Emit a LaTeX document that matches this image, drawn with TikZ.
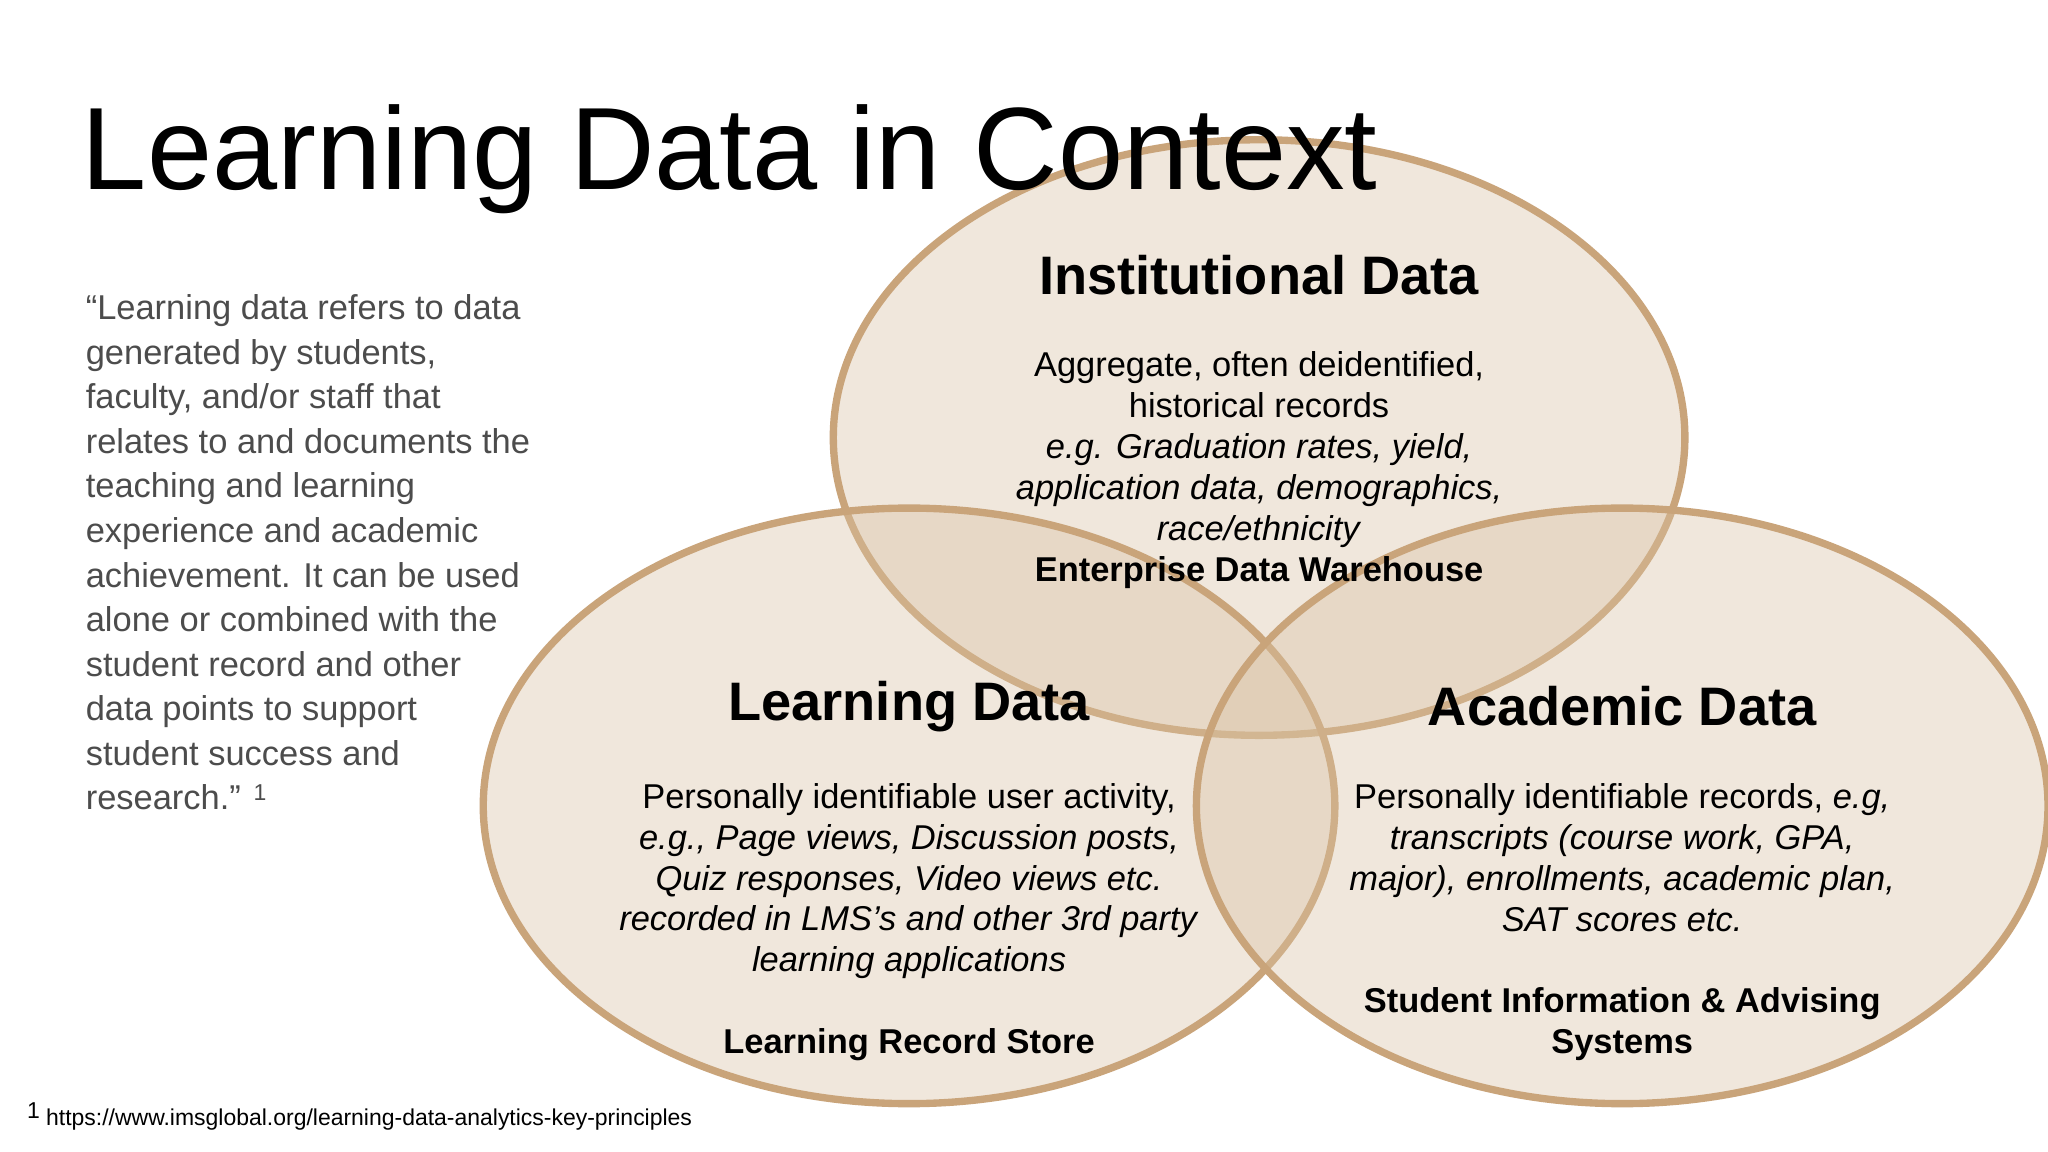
\documentclass[tikz,border=0pt]{standalone}
\usepackage{fontspec}
\setmainfont{Liberation Sans}
\definecolor{edge}{HTML}{C9A47A}
\definecolor{fillc}{HTML}{D9C2A3}
\begin{document}
\begin{tikzpicture}[x=0.01cm,y=-0.01cm,
  circ/.style={draw=edge,line width=1.6pt,fill=fillc,fill opacity=0.38},
  head/.style={font=\fontsize{11.8}{13}\selectfont\bfseries,inner sep=0},
  body/.style={font=\fontsize{7.5}{8.9}\selectfont,align=center,inner sep=0}]
\useasboundingbox (0,0) rectangle (1568,882);
\fill[white] (0,0) rectangle (1568,882);
\path[circ] (964,335) ellipse [x radius=326, y radius=228];
\path[circ] (696,617) ellipse [x radius=326, y radius=228];
\path[circ] (1242,617) ellipse [x radius=326, y radius=228];
\node[anchor=base west,inner sep=0,font=\fontsize{25.5}{28}\selectfont] (title) at (62,145) {Learning Data in Context};
\node[anchor=west,inner sep=0,align=left,text=black!70,font=\fontsize{7.5}{9.7}\selectfont] (quote) at (65,423) {“Learning data refers to data\\generated by students,\\faculty, and/or staff that\\relates to and documents the\\teaching and learning\\experience and academic\\achievement. It can be used\\alone or combined with the\\student record and other\\data points to support\\student success and\\research.” \raisebox{0.5ex}{\fontsize{5}{6}\selectfont 1}};
\node[head] (ih) at (964,211) {Institutional Data};
\node[head] (lh) at (696,541) {Learning Data};
\node[head] (ah) at (1242,541) {Academic Data};
\node[body] (ib) at (964,360) {Aggregate, often deidentified,\\historical records\\\textit{e.g. Graduation rates, yield,}\\\textit{application data, demographics,}\\\textit{race/ethnicity}\\\textbf{Enterprise Data Warehouse}};
\node[body] (lb) at (696,706) {Personally identifiable user activity,\\\textit{e.g., Page views, Discussion posts,}\\\textit{Quiz responses, Video views etc.}\\\textit{recorded in LMS’s and other 3rd party}\\\textit{learning applications}\\ \\\textbf{Learning Record Store}};
\node[body] (ab) at (1242,706) {Personally identifiable records, \textit{e.g,}\\\textit{transcripts (course work, GPA,}\\\textit{major), enrollments, academic plan,}\\\textit{SAT scores etc.}\\ \\\textbf{Student Information \& Advising}\\\textbf{Systems}};
\node[anchor=base west,inner sep=0,font=\fontsize{5}{6}\selectfont] (fn) at (20,862) {\raisebox{0.6ex}{1} https://www.imsglobal.org/learning-data-analytics-key-principles};
\end{tikzpicture}
\end{document}
